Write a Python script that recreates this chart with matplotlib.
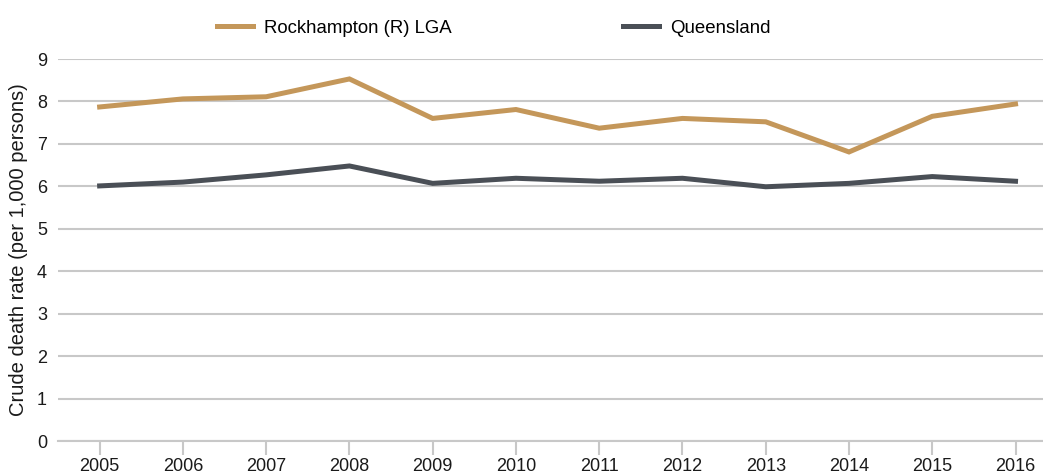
import matplotlib.pyplot as plt

plt.rcParams['font.family'] = ['Liberation Sans', 'DejaVu Sans']

years = ['2005', '2006', '2007', '2008', '2009', '2010',
         '2011', '2012', '2013', '2014', '2015', '2016']
rockhampton = [7.87, 8.06, 8.11, 8.53, 7.60, 7.81, 7.37, 7.60, 7.52, 6.81, 7.65, 7.94]
queensland = [6.01, 6.10, 6.27, 6.48, 6.07, 6.19, 6.12, 6.19, 5.99, 6.07, 6.23, 6.12]

gold = '#C4975A'
slate = '#4A4F56'
grid_col = '#C8C8C8'
text_col = '#1A1A1A'

fig = plt.figure(figsize=(10.43, 4.76), dpi=100)
ax = fig.add_axes([58 / 1043, 35 / 476, 985 / 1043, 382 / 476])

x = list(range(len(years)))
ax.plot(x, rockhampton, color=gold, lw=3.6, label='Rockhampton (R) LGA', solid_joinstyle='miter')
ax.plot(x, queensland, color=slate, lw=3.6, label='Queensland', solid_joinstyle='miter')

ax.set_ylim(0, 9)
ax.set_xlim(-0.5, 11.33)
ax.set_yticks(range(10))
ax.set_xticks(x)
ax.set_xticklabels(years)
ax.yaxis.grid(True, color=grid_col, lw=1.5)
ax.set_axisbelow(True)

for s in ['top', 'right', 'left']:
    ax.spines[s].set_visible(False)
ax.spines['bottom'].set_color(grid_col)
ax.spines['bottom'].set_linewidth(1.5)

ax.tick_params(axis='y', length=0, pad=8, labelsize=13, labelcolor=text_col)
ax.tick_params(axis='x', length=10, width=1.5, color=grid_col, pad=2,
               labelsize=13, labelcolor=text_col)
ax.set_ylabel('Crude death rate (per 1,000 persons)', fontsize=14.5, color=text_col)
ax.yaxis.set_label_coords(-30 / 985, 0.5)

fig.legend(loc='center left', bbox_to_anchor=(217 / 1043, 1 - 28 / 476), ncol=2,
           frameon=False, fontsize=13.4, handlelength=1.94, handletextpad=0.6,
           columnspacing=9.2, borderpad=0, borderaxespad=0)

fig.savefig('out.png', dpi=100)
